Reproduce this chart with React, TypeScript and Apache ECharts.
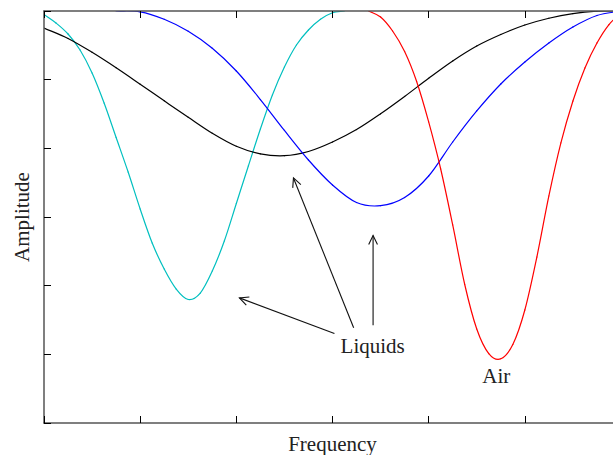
import React, { useEffect, useRef } from "react";
import * as echarts from "echarts";

// Frequency / amplitude samples for each response curve
const liquidAFreq: number[] = [
  0, 0.125, 0.25, 0.375, 0.5, 0.625, 0.75, 0.875, 1, 1.125, 1.25, 1.375, 1.5,
  1.625, 1.75, 1.875, 2, 2.125, 2.25, 2.375, 2.5, 2.625, 2.75, 2.875, 3, 3.125,
];
const liquidAAmp: number[] = [
  5.949, 5.825, 5.665, 5.432, 5.097, 4.66, 4.158, 3.655, 3.116, 2.621, 2.243, 1.951, 1.799,
  1.893, 2.214, 2.65, 3.197, 3.743, 4.282, 4.777, 5.184, 5.505, 5.723, 5.879, 5.975, 6.0,
];

const liquidBFreq: number[] = [
  0, 0.25, 0.5, 0.75, 1, 1.25, 1.5, 1.75, 2, 2.25, 2.5, 2.75, 3,
  3.25, 3.5, 3.75, 4, 4.25, 4.5, 4.75, 5, 5.25, 5.5, 5.75, 6,
];
const liquidBAmp: number[] = [
  5.752, 5.6, 5.398, 5.173, 4.934, 4.692, 4.452, 4.219, 4.03, 3.92, 3.893, 3.954, 4.092,
  4.273, 4.503, 4.755, 5.02, 5.272, 5.49, 5.658, 5.796, 5.895, 5.962, 5.996, 6.0,
];

const liquidCFreq: number[] = [
  0.75, 1, 1.25, 1.5, 1.75, 2, 2.25, 2.5, 2.75, 3, 3.25,
  3.5, 3.75, 4, 4.25, 4.5, 4.75, 5, 5.25, 5.5, 5.75, 6,
];
const liquidCAmp: number[] = [
  6.0, 5.988, 5.879, 5.704, 5.457, 5.126, 4.711, 4.26, 3.83, 3.466, 3.211,
  3.165, 3.284, 3.597, 4.092, 4.544, 4.937, 5.257, 5.534, 5.767, 5.935, 6.0,
];

const airFreq: number[] = [
  3.375, 3.5, 3.625, 3.75, 3.875, 4, 4.125, 4.25, 4.375, 4.5, 4.625,
  4.75, 4.875, 5, 5.125, 5.25, 5.375, 5.5, 5.625, 5.75, 5.875, 6,
];
const airAmp: number[] = [
  6.0, 5.913, 5.709, 5.41, 4.973, 4.384, 3.699, 2.884, 2.017, 1.369, 1.012,
  0.935, 1.143, 1.646, 2.417, 3.306, 4.078, 4.689, 5.17, 5.534, 5.803, 5.971,
];

// Annotation arrows: [tailX, tailY, tipX, tipY]
const arrows: number[][] = [
  [3.02, 1.303, 2.032, 1.822],
  [3.22, 1.386, 2.594, 3.569],
  [3.422, 1.424, 3.422, 2.729],
];
// Annotation texts and their anchor points
const noteTexts: string[] = ["Liquids", "Air"];
const notePoints: number[][] = [
  [3.418, 1.12],
  [4.704, 0.68],
];

const pairs = (xs: number[], ys: number[]) => xs.map((x, i) => [x, ys[i]]);

const axisTicks = { show: true, inside: true, length: 7, lineStyle: { color: "#000", width: 1 } };
const axisLine = { show: true, lineStyle: { color: "#555", width: 1.5 } };
const FONT = "Liberation Serif";

// A curve drawn as Catmull-Rom segments between consecutive samples
function splineSeries(name: string, xs: number[], ys: number[], color: string) {
  const n = xs.length;
  return {
    name,
    type: "custom",
    data: pairs(xs, ys),
    clip: true,
    z: 2,
    renderItem: (params: any, api: any) => {
      const i = params.dataIndex;
      if (i >= n - 1) return null;
      const P = (j: number) => api.coord([xs[j], ys[j]]);
      const p1 = P(i);
      const p2 = P(i + 1);
      // end tangents mirror the neighbouring segment
      const p0 = i > 0 ? P(i - 1) : [2 * p1[0] - p2[0], 2 * p1[1] - p2[1]];
      const p3 = i + 2 < n ? P(i + 2) : [2 * p2[0] - p1[0], 2 * p2[1] - p1[1]];
      return {
        type: "bezierCurve",
        shape: {
          x1: p1[0],
          y1: p1[1],
          x2: p2[0],
          y2: p2[1],
          cpx1: p1[0] + (p2[0] - p0[0]) / 6,
          cpy1: p1[1] + (p2[1] - p0[1]) / 6,
          cpx2: p2[0] - (p3[0] - p1[0]) / 6,
          cpy2: p2[1] - (p3[1] - p1[1]) / 6,
        },
        style: { stroke: color, lineWidth: 1.2, fill: "none", lineCap: "round" },
      };
    },
  };
}

export default function App() {
  const ref = useRef<HTMLDivElement>(null);

  useEffect(() => {
    if (!ref.current) return;
    const chart = echarts.init(ref.current, undefined, { renderer: "svg" });

    chart.setOption({
      animation: false,
      backgroundColor: "#fff",
      grid: {
        left: 44,
        top: 11,
        width: 577,
        height: 412,
        containLabel: false,
        outerBoundsMode: "none",
      },
      xAxis: [
        {
          type: "value",
          min: 0,
          max: 6,
          interval: 1,
          position: "bottom",
          name: "Frequency",
          nameLocation: "middle",
          nameGap: 10,
          nameTextStyle: { fontFamily: FONT, fontSize: 21, color: "#222" },
          axisLine,
          axisTick: axisTicks,
          axisLabel: { show: false },
          splitLine: { show: false },
          z: 5,
        },
        {
          type: "value",
          min: 0,
          max: 6,
          interval: 1,
          position: "top",
          axisLine,
          axisTick: axisTicks,
          axisLabel: { show: false },
          splitLine: { show: false },
          z: 5,
        },
      ],
      yAxis: {
        type: "value",
        min: 0,
        max: 6,
        interval: 1,
        name: "Amplitude",
        nameLocation: "middle",
        nameGap: 12,
        nameRotate: 90,
        nameTextStyle: { fontFamily: FONT, fontSize: 21, color: "#222" },
        axisLine,
        axisTick: axisTicks,
        axisLabel: { show: false },
        splitLine: { show: false },
        z: 5,
      },
      series: [
        splineSeries("Liquid A", liquidAFreq, liquidAAmp, "#00bfbf"),
        splineSeries("Liquid B", liquidBFreq, liquidBAmp, "#000000"),
        splineSeries("Liquid C", liquidCFreq, liquidCAmp, "#0000ff"),
        splineSeries("Air", airFreq, airAmp, "#ff0000"),
        {
          name: "arrows",
          type: "custom",
          data: arrows,
          encode: { x: [0, 2], y: [1, 3] },
          clip: false,
          z: 4,
          renderItem: (_params: any, api: any) => {
            const p0 = api.coord([api.value(0), api.value(1)]);
            const p1 = api.coord([api.value(2), api.value(3)]);
            const ang = Math.atan2(p1[1] - p0[1], p1[0] - p0[0]);
            const head = 10;
            const spread = (26 * Math.PI) / 180;
            const h1 = [p1[0] - head * Math.cos(ang - spread), p1[1] - head * Math.sin(ang - spread)];
            const h2 = [p1[0] - head * Math.cos(ang + spread), p1[1] - head * Math.sin(ang + spread)];
            const style = { stroke: "#111", lineWidth: 1.1, fill: "none" };
            return {
              type: "group",
              children: [
                { type: "line", shape: { x1: p0[0], y1: p0[1], x2: p1[0], y2: p1[1] }, style },
                { type: "polyline", shape: { points: [h1, p1, h2] }, style },
              ],
            };
          },
        },
        {
          name: "notes",
          type: "custom",
          data: notePoints,
          clip: false,
          z: 4,
          renderItem: (params: any, api: any) => {
            const p = api.coord([api.value(0), api.value(1)]);
            return {
              type: "text",
              x: p[0],
              y: p[1],
              style: {
                text: noteTexts[params.dataIndex],
                fontFamily: FONT,
                fontSize: 21,
                fill: "#222",
                align: "center",
                verticalAlign: "middle",
              },
            };
          },
        },
      ],
    });

    return () => chart.dispose();
  }, []);

  return (
    <div
      style={{
        position: "fixed",
        left: 0,
        top: 0,
        width: 613,
        height: 455,
        overflow: "hidden",
        background: "#fff",
      }}
    >
      <div ref={ref} style={{ width: 640, height: 455 }} />
    </div>
  );
}
